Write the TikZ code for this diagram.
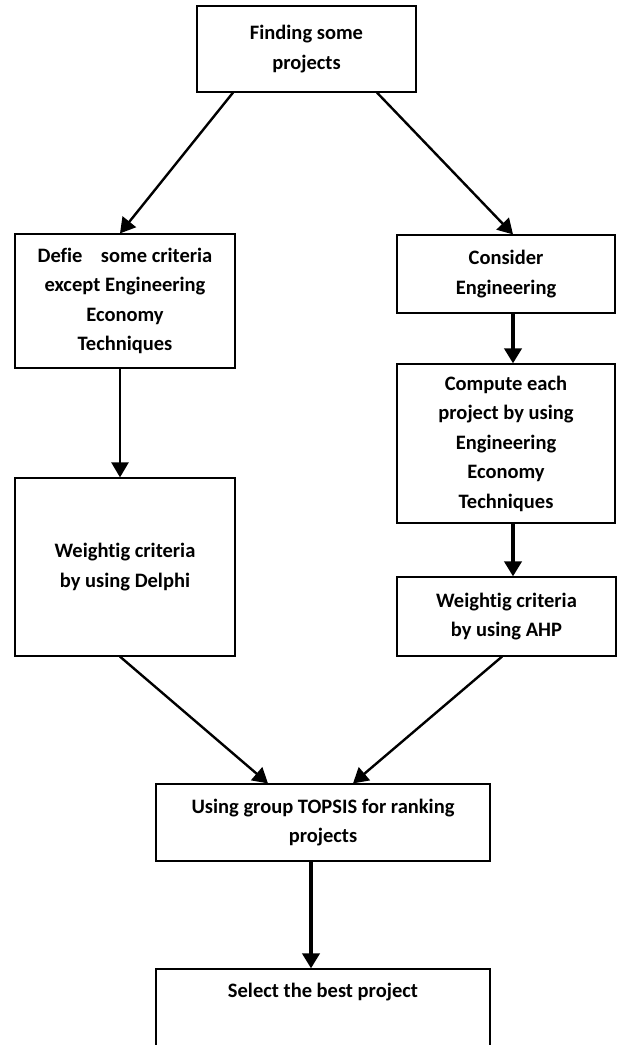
\documentclass[tikz,border=0pt]{standalone}
\usepackage{fontspec}
\setmainfont[Ligatures=NoCommon]{Carlito}
\usetikzlibrary{arrows.meta,calc}
\begin{document}
\begin{tikzpicture}[x=1pt,y=-1pt,
  box/.style={draw, line width=1.2pt, inner sep=0pt, align=center,
    font=\bfseries\fontsize{20.5}{29.5}\selectfont},
  thin/.style={line width=2.4pt, -{Triangle[length=15pt,width=17pt]}},
  thick/.style={line width=4pt, -{Triangle[length=15pt,width=17pt]}},
  lbl/.style={inner sep=0pt, align=center, font=\bfseries\fontsize{20.5}{29.5}\selectfont}]
\clip (0,0) rectangle (617,1045);
\fill[white] (0,0) rectangle (617,1045);
\node[box, minimum width=219pt, minimum height=86pt] (find) at (306.5,49) {Finding some\\projects};
\node[box, minimum width=220pt, minimum height=134pt] (define) at (125,301) {Defie\hspace{0.9em}some criteria\\except Engineering\\Economy\\Techniques};
\node[box, minimum width=218pt, minimum height=78pt] (consider) at (506,274) {Consider\\Engineering};
\node[box, minimum width=218pt, minimum height=159pt] (compute) at (506,443.5) {Compute each\\project by using\\Engineering\\Economy\\Techniques};
\node[box, minimum width=220pt, minimum height=178pt] (delphi) at (125,567) {Weightig criteria\\by using Delphi};
\node[box, minimum width=219pt, minimum height=79pt] (ahp) at (506.5,616.5) {Weightig criteria\\by using AHP};
\node[box, minimum width=334pt, minimum height=77pt] (topsis) at (323,822.5) {Using group TOPSIS for ranking\\projects};
\node[draw, line width=1.2pt, minimum width=334pt, minimum height=100pt, inner sep=0pt] (select) at (323,1019) {};
\node[lbl] (selectlbl) at (323,992) {Select the best project};
\draw[thin] ([xshift=-73.5pt]find.south) -- ([xshift=-5pt]define.north);
\draw[thin] ([xshift=70.5pt]find.south) -- ([xshift=7pt]consider.north);
\draw[thin] ([xshift=-5pt]define.south) -- ([xshift=-5pt]delphi.north);
\draw[thick] ([xshift=7pt]consider.south) -- ([xshift=7pt]compute.north);
\draw[thick] ([xshift=7pt]compute.south) -- ([xshift=6.5pt]ahp.north);
\draw[thin] ([xshift=-5pt]delphi.south) -- ([xshift=-55pt]topsis.north);
\draw[thin] ([xshift=-4.5pt]ahp.south) -- ([xshift=30pt]topsis.north);
\draw[thick] ([xshift=-12pt]topsis.south) -- ([xshift=-12pt]select.north);
\end{tikzpicture}
\end{document}
